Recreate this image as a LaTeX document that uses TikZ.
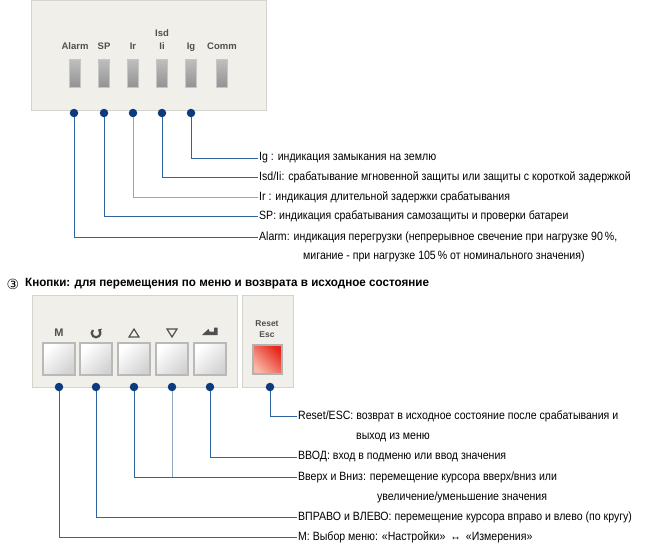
\documentclass[tikz,border=0pt]{standalone}
\usepackage{fontspec}
\setmainfont{Liberation Sans}
\newfontfamily\narrowfont[FakeStretch=0.88]{Liberation Sans}
\newfontfamily\headfont[FakeStretch=0.97]{Liberation Sans}
\newfontfamily\symfont{DejaVu Sans}
\usetikzlibrary{arrows.meta, positioning, calc}
\definecolor{panelfill}{HTML}{F0EFE9}
\definecolor{panelline}{HTML}{D4D3CC}
\definecolor{leadblue}{HTML}{2F64A3}
\definecolor{leadlight}{HTML}{8FA9C4}
\definecolor{dotblue}{HTML}{0B3A7D}
\definecolor{labelgray}{HTML}{505050}
\definecolor{resetred}{HTML}{E6261C}
\definecolor{resetpink}{HTML}{F8B9A6}

\begin{document}
\begin{tikzpicture}[x=1pt, y=-1pt,
  panel/.style={fill=panelfill, draw=panelline, line width=0.8pt},
  led/.style={minimum width=11pt, minimum height=28pt, inner sep=0, draw=gray!45, line width=0.8pt, top color=gray!50, bottom color=gray!85},
  ledlabel/.style={font=\bfseries\fontsize{9.5}{10}\selectfont, text=labelgray, anchor=base, inner sep=0},
  dot/.style={circle, fill=dotblue, minimum size=8.5pt, inner sep=0},
  lead/.style={leadblue, line width=0.9pt},
  desc/.style={font=\narrowfont\fontsize{12}{13}\selectfont, anchor=west, inner sep=1pt},
  key/.style={minimum size=32pt, inner sep=0, draw=gray!55, line width=2pt, top color=white, bottom color=gray!35, shading angle=45},
  resetkey/.style={minimum size=29pt, inner sep=0, draw=gray!60, line width=2pt, top color=resetred, bottom color=resetpink, shading angle=-45},
  icon/.style={labelgray, line width=1.2pt},
]
  \useasboundingbox (0,0) rectangle (657,557);

  % Indicator panel
  \path[panel] (31,0.5) rectangle (266,110);
  \foreach \x/\n/\t in {75/alarm/Alarm, 104/sp/SP, 133/ir/Ir, 162/isd/Ii, 191/ig/Ig, 222/comm/Comm} {
    \node[led] (led-\n) at (\x,73) {};
    \node[ledlabel] (lbl-\n) at (\x,49) {\t};
  }
  \node[ledlabel] (lbl-isdtop) at (162,36) {Isd};
  \foreach \x/\n in {74/alarm, 104/sp, 133/ir, 162/isd, 191/ig}
    \node[dot] (dot-\n) at (\x,113) {};

  % Indicator descriptions
  \node[desc] (txt-ig) at (258,158) {Ig : индикация замыкания на землю};
  \node[desc] (txt-isd) at (258,177) {Isd/Ii: срабатывание мгновенной защиты или защиты с короткой задержкой};
  \node[desc] (txt-ir) at (258,197) {Ir : индикация длительной задержки срабатывания};
  \node[desc] (txt-sp) at (258,216) {SP: индикация срабатывания самозащиты и проверки батареи};
  \node[desc] (txt-alarm) at (258,237) {Alarm: индикация перегрузки (непрерывное свечение при нагрузке 90\,\%,};
  \node[desc] (txt-alarm2) at ([shift={(44,19)}]txt-alarm.west) {мигание - при нагрузке 105\,\% от номинального значения)};

  \draw[lead] (dot-ig) |- (txt-ig.west);
  \draw[lead] (dot-isd) |- (txt-isd.west);
  \draw[lead, leadlight] (dot-ir) |- (txt-ir.west);
  \draw[lead] (dot-sp) |- (txt-sp.west);
  \draw[lead] (dot-alarm) |- (txt-alarm.west);

  % Heading
  \node[font=\symfont\fontsize{14}{15}\selectfont, inner sep=0] (num3) at (13,284) {③};
  \node[font=\headfont\bfseries\fontsize{12}{14}\selectfont, anchor=west, inner sep=0] (heading) at (25,284)
    {Кнопки: для перемещения по меню и возврата в исходное состояние};

  % Key panels
  \path[panel] (32,295) rectangle (237,387);
  \path[panel] (242,295) rectangle (293,387);
  \foreach \x/\n in {59/menu, 96/loop, 134/up, 172/down, 210/enter} {
    \node[key] (key-\n) at (\x,359) {};
    \node[dot] (kdot-\n) at (\x,387) {};
  }
  \node[resetkey] (key-reset) at (267,359) {};
  \node[dot] (kdot-reset) at (270,387) {};
  \node[ledlabel, font=\bfseries\fontsize{8.5}{9}\selectfont] (lbl-reset) at (267,326) {Reset};
  \node[ledlabel, font=\bfseries\fontsize{8.5}{9}\selectfont] (lbl-esc) at (267,337) {Esc};

  % Key symbols
  \node[font=\bfseries\fontsize{11}{12}\selectfont, text=labelgray, inner sep=0] (sym-menu) at (59,333) {M};
  \draw[labelgray, line width=2.2pt, -{Triangle[length=2.5pt, width=5.5pt]}] (96,333) ++(-135:4.3) arc (-135:-415:4.3);
  \draw[icon, line join=miter] (129,337) -- (134,329) -- (139,337) -- cycle;
  \draw[icon, line join=miter] (167,329) -- (172,337) -- (177,329) -- cycle;
  \fill[labelgray] (202,335) -- (208.5,329) -- (209.5,331.5) -- (214,331.5) -- (214,327.5) -- (217.5,327.5) -- (217.5,335) -- cycle;

  % Key descriptions
  \node[desc] (txt-reset) at (297,416) {Reset/ESC: возврат в исходное состояние после срабатывания и};
  \node[desc] (txt-reset2) at ([shift={(58,21)}]txt-reset.west) {выход из меню};
  \node[desc] (txt-enter) at (297,457) {ВВОД: вход в подменю или ввод значения};
  \node[desc] (txt-updown) at (297,477) {Вверх и Вниз: перемещение курсора вверх/вниз или};
  \node[desc] (txt-updown2) at ([shift={(79,20)}]txt-updown.west) {увеличение/уменьшение значения};
  \node[desc] (txt-loop) at (297,517) {ВПРАВО и ВЛЕВО: перемещение курсора вправо и влево (по кругу)};
  \node[desc] (txt-menu) at (297,537) {М: Выбор меню: «Настройки» \,↔\, «Измерения»};

  \draw[lead] (kdot-reset) |- (txt-reset.west);
  \draw[lead] (kdot-enter) |- (txt-enter.west);
  \draw[lead] (kdot-up) |- (txt-updown.west);
  \draw[lead, leadlight] (kdot-down) -- (kdot-down |- txt-updown.west);
  \draw[lead] (kdot-loop) |- (txt-loop.west);
  \draw[lead] (kdot-menu) |- (txt-menu.west);
\end{tikzpicture}
\end{document}
